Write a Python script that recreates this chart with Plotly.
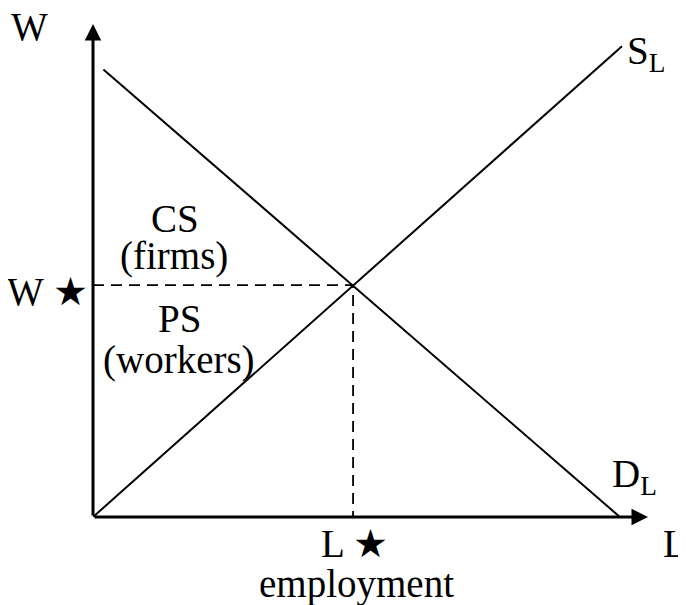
import plotly.graph_objects as go

# ---- data (model units) ----
supply_x = [0.0, 10.17]
supply_y = [0.0, 10.15]
demand_x = [0.2, 10.13]
demand_y = [9.65, 0.0]
L_star = 5.0
W_star = 5.0
x_axis_max = 10.67
y_axis_max = 10.63

# ---- layout geometry (page pixels; page body has an 8px margin) ----
OFF = 8
PAGE_W, PAGE_H = 686, 605
ORIG_X, ORIG_Y = 93, 517      # axes origin on page
TIP_X, TIP_Y = 648, 24        # arrow tips on page
PLOT_W = TIP_X - ORIG_X
PLOT_H = ORIG_Y - TIP_Y

FIG_W, FIG_H = PAGE_W - OFF, PAGE_H - OFF
ML = ORIG_X - OFF
MT = TIP_Y - OFF
MR = FIG_W - ML - PLOT_W
MB = FIG_H - MT - PLOT_H


def px_x(px):
    return (px - ORIG_X) / PLOT_W


def px_y(py):
    return (ORIG_Y - py) / PLOT_H


FONT = "Liberation Serif"
FS = 39
BLACK = "#000000"

fig = go.Figure()

fig.add_trace(go.Scatter(x=supply_x, y=supply_y, mode="lines",
                         line=dict(color=BLACK, width=2), hoverinfo="skip",
                         showlegend=False))
fig.add_trace(go.Scatter(x=demand_x, y=demand_y, mode="lines",
                         line=dict(color=BLACK, width=2), hoverinfo="skip",
                         showlegend=False))
fig.add_trace(go.Scatter(x=[0, L_star, L_star], y=[W_star, W_star, 0], mode="lines",
                         line=dict(color=BLACK, width=1.8, dash="11px,7px"),
                         hoverinfo="skip", showlegend=False))

annotations = []
# axes with arrowheads
annotations.append(dict(x=x_axis_max, y=0, ax=0, ay=0, xref="x", yref="y",
                        axref="x", ayref="y", showarrow=True, arrowhead=2,
                        arrowsize=1.1, arrowwidth=3, arrowcolor=BLACK, text="",
                        standoff=0))
annotations.append(dict(x=0, y=y_axis_max, ax=0, ay=0, xref="x", yref="y",
                        axref="x", ayref="y", showarrow=True, arrowhead=2,
                        arrowsize=1.1, arrowwidth=3, arrowcolor=BLACK, text="",
                        standoff=0))


def label(text, px, py, xanchor="center", size=FS):
    annotations.append(dict(x=px_x(px), y=px_y(py), xref="paper", yref="paper",
                            text=text, showarrow=False, xanchor=xanchor,
                            yanchor="middle",
                            font=dict(family=FONT, size=size, color=BLACK)))


label("W", 29, 26)
label("S<sub>L</sub>", 625, 54, xanchor="left")
label("D<sub>L</sub>", 610, 476, xanchor="left")
label("W ★", 47, 291)
label("CS", 175, 218)
label("(firms)", 174, 256)
label("PS", 179, 318)
label("(workers)", 179, 360)
label("L ★", 354, 543)
label("L", 675, 543)
label("employment", 356, 584)

fig.update_layout(
    width=FIG_W, height=FIG_H,
    margin=dict(l=ML, r=MR, t=MT, b=MB),
    paper_bgcolor="white", plot_bgcolor="white",
    xaxis=dict(range=[0, x_axis_max], visible=False, fixedrange=True),
    yaxis=dict(range=[0, y_axis_max], visible=False, fixedrange=True),
    annotations=annotations,
    showlegend=False,
)

fig.write_html("out.html")
